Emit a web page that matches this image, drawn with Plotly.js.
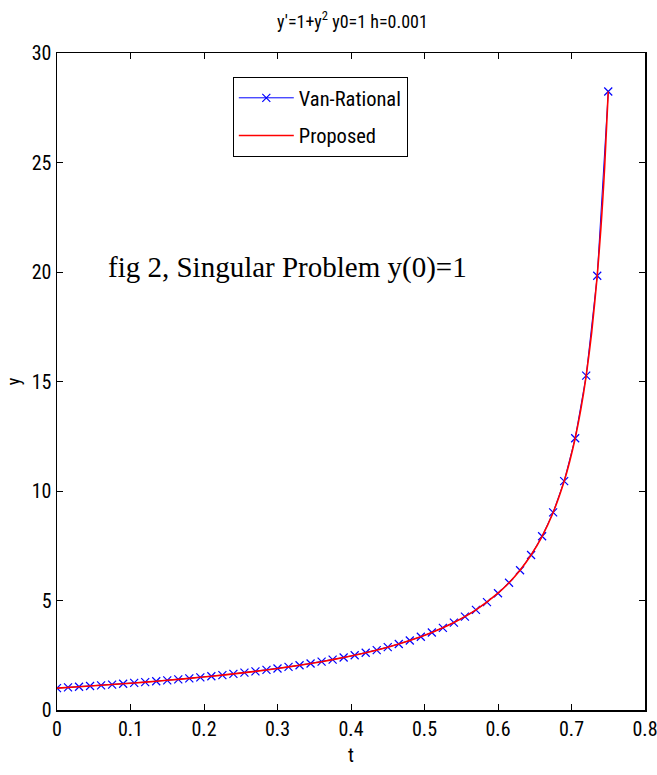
<!DOCTYPE html>
<html>
<head>
<meta charset="utf-8">
<script src="https://cdn.plot.ly/plotly-3.0.1.min.js"></script>
<style>html,body{margin:0;padding:0;background:#fff;}#chart{width:657px;height:775px;}</style>
</head>
<body>
<div id="chart"></div>
<script>
// Van-Rational solution (marked points)
const tVan = [0, 0.015, 0.03, 0.045, 0.06, 0.075, 0.09, 0.105, 0.12, 0.135, 0.15, 0.165, 0.18, 0.195, 0.21, 0.225, 0.24, 0.255, 0.27, 0.285, 0.3, 0.315, 0.33, 0.345, 0.36, 0.375, 0.39, 0.405, 0.42, 0.435, 0.45, 0.465, 0.48, 0.495, 0.51, 0.525, 0.54, 0.555, 0.57, 0.585, 0.6, 0.615, 0.63, 0.645, 0.66, 0.675, 0.69, 0.705, 0.72, 0.735, 0.75];
const yVan = [1.000, 1.030, 1.062, 1.094, 1.128, 1.162, 1.198, 1.236, 1.274, 1.314, 1.356, 1.400, 1.445, 1.492, 1.542, 1.594, 1.648, 1.705, 1.765, 1.829, 1.896, 1.967, 2.042, 2.122, 2.207, 2.298, 2.396, 2.501, 2.614, 2.736, 2.869, 3.014, 3.172, 3.346, 3.539, 3.753, 3.993, 4.263, 4.571, 4.923, 5.332, 5.812, 6.383, 7.076, 7.933, 9.021, 10.45, 12.41, 15.27, 19.83, 28.24];
// Proposed solution (continuous line)
const tProp = [0, 0.03, 0.06, 0.09, 0.12, 0.15, 0.18, 0.21, 0.24, 0.27, 0.3, 0.33, 0.36, 0.39, 0.42, 0.45, 0.48, 0.51, 0.54, 0.57, 0.6, 0.615, 0.63, 0.645, 0.66, 0.675, 0.69, 0.6975, 0.705, 0.7125, 0.72, 0.7275, 0.735, 0.74, 0.7425, 0.745, 0.75];
const yProp = [1.000, 1.062, 1.128, 1.198, 1.274, 1.356, 1.445, 1.542, 1.648, 1.765, 1.896, 2.042, 2.207, 2.396, 2.614, 2.869, 3.172, 3.539, 3.993, 4.571, 5.332, 5.812, 6.383, 7.076, 7.933, 9.021, 10.45, 11.35, 12.41, 13.69, 15.27, 17.25, 19.83, 22.01, 23.30, 24.74, 28.24];
const seriesNames = ["Van-Rational", "Proposed"];
const xTicks = [0, 0.1, 0.2, 0.3, 0.4, 0.5, 0.6, 0.7, 0.8];
const yTicks = [0, 5, 10, 15, 20, 25, 30];

const narrow = '"Roboto Condensed", Roboto, "DejaVu Sans", sans-serif';
function nf(size) { return {family: narrow, size: size, color: '#000'}; }

const traces = [
  {x: tVan, y: yVan, name: seriesNames[0], type: 'scatter', mode: 'lines+markers',
   legendgroup: 'a',
   line: {color: '#0000ff', width: 1},
   marker: {symbol: 'x-thin', size: 8, color: '#0000ff', line: {color: '#0000ff', width: 1.2}}},
  {x: tProp, y: yProp, name: seriesNames[1], type: 'scatter', mode: 'lines',
   legendgroup: 'b',
   line: {color: '#ff0000', width: 1.6, shape: 'spline', smoothing: 0.6}}
];

const axisCommon = {
  showgrid: false, zeroline: false, showline: true, linecolor: '#000', linewidth: 1.5,
  mirror: 'ticks', ticks: 'inside', ticklen: 6, tickwidth: 1, tickcolor: '#000',
  tickfont: nf(20), ticklabeloverflow: 'allow'
};

const layout = {
  width: 657, height: 775,
  margin: {l: 57, r: 12, t: 53, b: 65},
  paper_bgcolor: '#fff', plot_bgcolor: '#fff',
  title: {text: "y'=1+y<sup>2</sup> y0=1 h=0.001", font: nf(18),
          x: 0.5365, xanchor: 'center', y: 0.972, yanchor: 'middle'},
  xaxis: Object.assign({}, axisCommon, {range: [0, 0.8], tickvals: xTicks, ticktext: xTicks.map(String),
          title: {text: 't', font: nf(20), standoff: 8}}),
  yaxis: Object.assign({}, axisCommon, {range: [0, 30], tickvals: yTicks, ticktext: yTicks.map(String),
          title: {text: 'y', font: nf(18), standoff: 6}}),
  showlegend: true,
  legend: {x: 0.299, y: 0.9635, xanchor: 'left', yanchor: 'top',
           bordercolor: '#000', borderwidth: 1, bgcolor: '#fff',
           font: nf(20.5),
           traceorder: 'grouped', tracegroupgap: 8, itemwidth: 55},
  annotations: [{
    text: 'fig 2, Singular Problem y(0)=1', xref: 'paper', yref: 'paper',
    x: (106 - 57) / 588, y: (710 - 267) / 657, xanchor: 'left', yanchor: 'middle',
    showarrow: false, font: {family: '"Liberation Serif", "Times New Roman", serif', size: 29, color: '#000'}
  }]
};

Plotly.newPlot('chart', traces, layout, {displayModeBar: false, staticPlot: true});
</script>
</body>
</html>
